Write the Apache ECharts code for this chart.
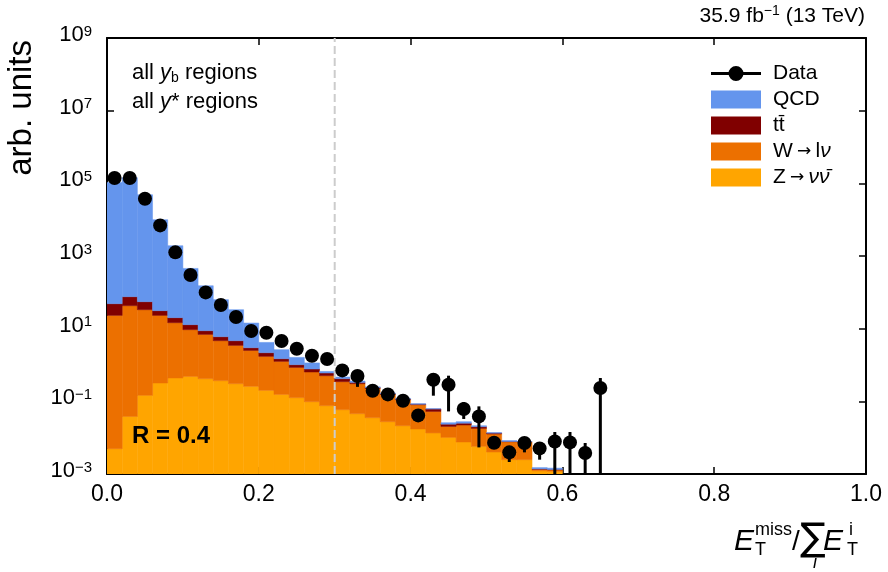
<!DOCTYPE html>
<html><head><meta charset="utf-8">
<script src="https://cdn.jsdelivr.net/npm/echarts@6/dist/echarts.min.js"></script>
<style>html,body{margin:0;padding:0;background:#fff}#c{width:888px;height:572px}</style>
</head><body><div id="c"></div>
<script>
// ---- bins (E_T^miss / sum E_T) ----
const binEdges = [0.00,0.02,0.04,0.06,0.08,0.10,0.12,0.14,0.16,0.18,0.20,0.22,0.24,0.26,0.28,0.30,
                  0.32,0.34,0.36,0.38,0.40,0.42,0.44,0.46,0.48,0.50,0.52,0.54,0.56,0.58,0.60];
// ---- stacked MC contributions per bin (bottom to top) ----
const zNuNu = [0.00496,0.0385,0.146,0.32,0.438,0.485,0.42,0.37,0.306,0.258,0.2,0.155,0.126,0.0977,0.0759,
               0.0589,0.0457,0.0355,0.0275,0.0213,0.0173,0.0135,0.0102,0.0076,0.00575,0.00404,0.00248,0.00248,0.00122,0.00118];
const wLNu  = [23.2,42.86,33.15,22.9,14.16,8.9,6.54,4.30,3.16,2.26,1.53,1.105,0.733,0.545,0.432,
               0.289,0.260,0.19,0.1275,0.089,0.0634,0.0393,0.0102,0.0147,0.01225,0.0086,0.00526,0.0052,0.00013,0.00012];
const ttbar = [25.5,33.0,22.0,8.1,5.5,3.52,1.84,1.34,1.20,0.47,0.45,0.23,0.161,0.133,0.094,
               0.072,0.026,0.015,0.008,0.005,0.0027,0.0087,0.0031,0.0027,0.002,0.0007,0.0001,0.0001,0.00003,0.00003];
const qcd   = [1.06e5,1.43e5,4.86e4,9970,1900,443,143,56.8,28.6,11.3,2.01,1.15,0.60,0.364,0.065,
               0.048,0.031,0.01,0.007,0.005,0.0027,0.0011,0.0023,0.0025,0.0013,0.0004,0.0005,0.0001,0.00012,0.00012];
// ---- data points ----
const dataX = [0.01,0.03,0.05,0.07,0.09,0.11,0.13,0.15,0.17,0.19,0.21,0.23,0.25,0.27,0.29,0.31,0.33,
               0.35,0.37,0.39,0.41,0.43,0.45,0.47,0.49,0.51,0.53,0.55,0.57,0.59,0.61,0.63,0.65];
const dataY = [1.40e5,1.40e5,3.78e4,6.96e3,1.26e3,300,99.7,44.9,20.9,8.63,7.75,4.58,2.81,1.80,1.46,0.711,0.497,
               0.196,0.155,0.104,0.041,0.394,0.287,0.0615,0.0385,0.00728,0.00394,0.00713,0.00507,0.00788,0.00741,0.00379,0.233];
const dataLow = [null,null,null,null,null,null,null,null,null,null,null,null,null,null,null,null,0.25,
                 null,null,null,null,0.143,0.0528,0.0327,0.0054,null,0.00214,0.00394,0.00248,0,0,0,0];
const dataHigh = [null,null,null,null,null,null,null,null,null,null,null,null,null,null,null,null,null,
                  null,null,null,null,0.55,0.508,0.096,0.0727,null,null,null,null,0.0143,0.0143,0.00713,0.438];
const yTicks = [-3,-1,1,3,5,7,9];

const FONT = 'Liberation Sans, Arial, Helvetica, sans-serif';
const lg = v => (v > 0 ? Math.log10(v) : -3.5);

// build stacked layers
const layers = [zNuNu, wLNu, ttbar, qcd];
const cum = [];
let prev = binEdges.slice(0, -1).map(() => 0);
layers.forEach(arr => {
  const rows = arr.map((v, i) => {
    const lo = prev[i], hi = prev[i] + v;
    return [binEdges[i], binEdges[i + 1], lo > 0 ? lg(lo) : -3.5, lg(hi)];
  });
  prev = prev.map((p, i) => p + arr[i]);
  cum.push(rows);
});

function rectItem(params, api) {
  const p0 = api.coord([api.value(0), api.value(3)]);
  const p1 = api.coord([api.value(1), api.value(2)]);
  const c = api.visual('color');
  return { type: 'rect',
    shape: { x: p0[0], y: p0[1], width: p1[0] - p0[0], height: p1[1] - p0[1] },
    style: { fill: c, stroke: c, lineWidth: 0.5 } };
}

const dataRows = dataX.map((x, i) => [x, lg(dataY[i]),
  dataLow[i] === null ? lg(dataY[i]) : lg(dataLow[i]),
  dataHigh[i] === null ? lg(dataY[i]) : lg(dataHigh[i])]);

function dataItem(params, api) {
  const c = api.coord([api.value(0), api.value(1)]);
  const lo = api.coord([api.value(0), api.value(2)]);
  const hi = api.coord([api.value(0), api.value(3)]);
  return { type: 'group', children: [
    { type: 'line', shape: { x1: lo[0], y1: lo[1], x2: hi[0], y2: hi[1] }, style: { stroke: '#000', lineWidth: 3 } },
    { type: 'circle', shape: { cx: c[0], cy: c[1], r: 7 }, style: { fill: '#000' } }
  ]};
}

const colors = { Z: '#FFA500', W: '#EC7000', T: '#800000', Q: '#6495ED' };
const names = ['Z', 'W', 'T', 'Q'];
const legendNames = { Data: 'Data', Q: 'QCD', T: 'tt̄', W: 'W → lν', Z: 'Z → νν̄' };
const legendRich = {
  'W → lν': '{n|W\u2009}{a|→}{n|\u2009l}{i|ν}',
  'Z → νν̄': '{n|Z\u2009}{a|→}{n|\u2009}{i|νν̄}'
};

const chart = echarts.init(document.getElementById('c'), null, { renderer: 'canvas' });

const axisCommon = {
  axisLine: { show: true, onZero: false, lineStyle: { color: '#000', width: 2 } },
  axisTick: { show: true, inside: true, length: 7, lineStyle: { color: '#000', width: 1.5 } },
  splitLine: { show: false }
};

const option = {
  animation: false,
  backgroundColor: '#fff',
  grid: { left: 107, right: 22, top: 38, bottom: 98 },
  xAxis: [
    Object.assign({ type: 'value', min: 0, max: 1, interval: 0.2, position: 'bottom',
      axisLabel: { color: '#000', fontSize: 23, fontFamily: FONT, margin: 9, formatter: v => v.toFixed(1) } }, axisCommon),
    Object.assign({ type: 'value', min: 0, max: 1, interval: 0.2, position: 'top',
      axisLabel: { show: false } }, axisCommon)
  ],
  yAxis: [
    Object.assign({}, axisCommon, { type: 'value', min: -3, max: 9, position: 'left',
      axisTick: Object.assign({}, axisCommon.axisTick, { customValues: yTicks }),
      axisLabel: { customValues: yTicks, margin: 15, color: '#000', fontFamily: FONT,
        formatter: v => '{b|10}{s|' + (v < 0 ? '\u2212' + (-v) : v) + '}',
        rich: { b: { fontSize: 22, lineHeight: 22, fontFamily: FONT, color: '#000', padding: [0, 0, 6, 0] },
                s: { fontSize: 15, lineHeight: 15, fontFamily: FONT, color: '#000', padding: [0, 0, 13, 0] } } } }),
    Object.assign({}, axisCommon, { type: 'value', min: -3, max: 9, position: 'right',
      axisTick: Object.assign({}, axisCommon.axisTick, { customValues: yTicks }),
      axisLabel: { show: false } })
  ],
  legend: {
    orient: 'vertical', left: 706, top: 58, itemWidth: 50, itemHeight: 18, itemGap: 5,
    selectedMode: false, symbolKeepAspect: true,
    formatter: name => legendRich[name] || ('{n|' + name + '}'),
    textStyle: { fontSize: 21, fontFamily: FONT, color: '#000', lineHeight: 18, padding: [0, 0, 0, 7],
      rich: { n: { fontSize: 21, fontFamily: FONT, color: '#000', lineHeight: 18 },
              i: { fontSize: 21, fontFamily: FONT, fontStyle: 'italic', color: '#000', lineHeight: 18 },
              a: { fontSize: 17, fontFamily: 'DejaVu Sans', color: '#000', lineHeight: 18 } } },
    data: [
      { name: 'Data', icon: 'path://M0,6L50,6L50,9L0,9Z M17.5,7.5A7.5,7.5,0,1,1,32.5,7.5A7.5,7.5,0,1,1,17.5,7.5Z' },
      { name: legendNames.Q, icon: 'rect' },
      { name: legendNames.T, icon: 'rect' },
      { name: legendNames.W, icon: 'rect' },
      { name: legendNames.Z, icon: 'rect' }
    ]
  },
  series: [
    ...names.map((k, i) => ({
      type: 'custom', name: legendNames[k], renderItem: rectItem, clip: true,
      itemStyle: { color: colors[k] }, data: cum[i], z: 2 + i,
      encode: { x: [0, 1], y: [2, 3] }
    })),
    { type: 'line', name: 'vline', data: [[0.3, -3], [0.3, 9]], symbol: 'none', silent: true, z: 8,
      lineStyle: { color: '#cccccc', width: 2, type: [8, 4] } },
    { type: 'custom', name: 'Data', renderItem: dataItem, clip: true, z: 10,
      itemStyle: { color: '#000' }, data: dataRows, encode: { x: 0, y: [1, 2, 3] } }
  ],
  graphic: [
    { type: 'text', x: 22, y: 40, rotation: Math.PI / 2,
      style: { text: 'arb. units', fontSize: 33, fontFamily: FONT, fill: '#000', align: 'right', verticalAlign: 'middle' } },
    { type: 'text', x: 865, y: 16,
      style: { text: '{a|35.9 fb}{s|\u22121}{a| (13 TeV)}', align: 'right', verticalAlign: 'middle',
        rich: { a: { fontSize: 21, fontFamily: FONT, fill: '#000', lineHeight: 22 },
                s: { fontSize: 14, fontFamily: FONT, fill: '#000', lineHeight: 14, padding: [0, 0, 10, 0] } } } },
    { type: 'text', x: 132, y: 73,
      style: { text: '{a|all }{i|y}{u|b}{a| regions}', align: 'left', verticalAlign: 'middle',
        rich: { a: { fontSize: 22, fontFamily: FONT, fill: '#000', lineHeight: 22 },
                i: { fontSize: 22, fontFamily: FONT, fontStyle: 'italic', fill: '#000', lineHeight: 22 },
                u: { fontSize: 14, fontFamily: FONT, fill: '#000', lineHeight: 14, padding: [10, 0, 0, 0] } } } },
    { type: 'text', x: 132, y: 102,
      style: { text: '{a|all }{i|y}{a|* regions}', align: 'left', verticalAlign: 'middle',
        rich: { a: { fontSize: 22, fontFamily: FONT, fill: '#000', lineHeight: 22 },
                i: { fontSize: 22, fontFamily: FONT, fontStyle: 'italic', fill: '#000', lineHeight: 22 } } } },
    { type: 'text', x: 132, y: 436, z: 20,
      style: { text: 'R = 0.4', fontSize: 24, fontWeight: 'bold', fontFamily: FONT, fill: '#000', align: 'left', verticalAlign: 'middle' } },
    // x-axis title
    { type: 'text', x: 734, y: 542, style: { text: 'E', fontSize: 30, fontStyle: 'italic', fontFamily: FONT, fill: '#000', verticalAlign: 'middle' } },
    { type: 'text', x: 755, y: 530, style: { text: 'miss', fontSize: 18, fontFamily: FONT, fill: '#000', verticalAlign: 'middle' } },
    { type: 'text', x: 755, y: 550, style: { text: 'T', fontSize: 18, fontFamily: FONT, fill: '#000', verticalAlign: 'middle' } },
    { type: 'text', x: 792, y: 542, style: { text: '/', fontSize: 28, fontFamily: FONT, fill: '#000', verticalAlign: 'middle' } },
    { type: 'text', x: 800, y: 540, style: { text: '\u2211', fontSize: 38, fontFamily: 'DejaVu Sans', fill: '#000', verticalAlign: 'middle' } },
    { type: 'text', x: 813, y: 563, style: { text: 'i', fontSize: 18, fontStyle: 'italic', fontFamily: FONT, fill: '#000', verticalAlign: 'middle' } },
    { type: 'text', x: 823, y: 542, style: { text: 'E', fontSize: 30, fontStyle: 'italic', fontFamily: FONT, fill: '#000', verticalAlign: 'middle' } },
    { type: 'text', x: 849, y: 530, style: { text: 'i', fontSize: 18, fontFamily: FONT, fill: '#000', verticalAlign: 'middle' } },
    { type: 'text', x: 847, y: 550, style: { text: 'T', fontSize: 18, fontFamily: FONT, fill: '#000', verticalAlign: 'middle' } }
  ]
};
chart.setOption(option);
</script></body></html>
